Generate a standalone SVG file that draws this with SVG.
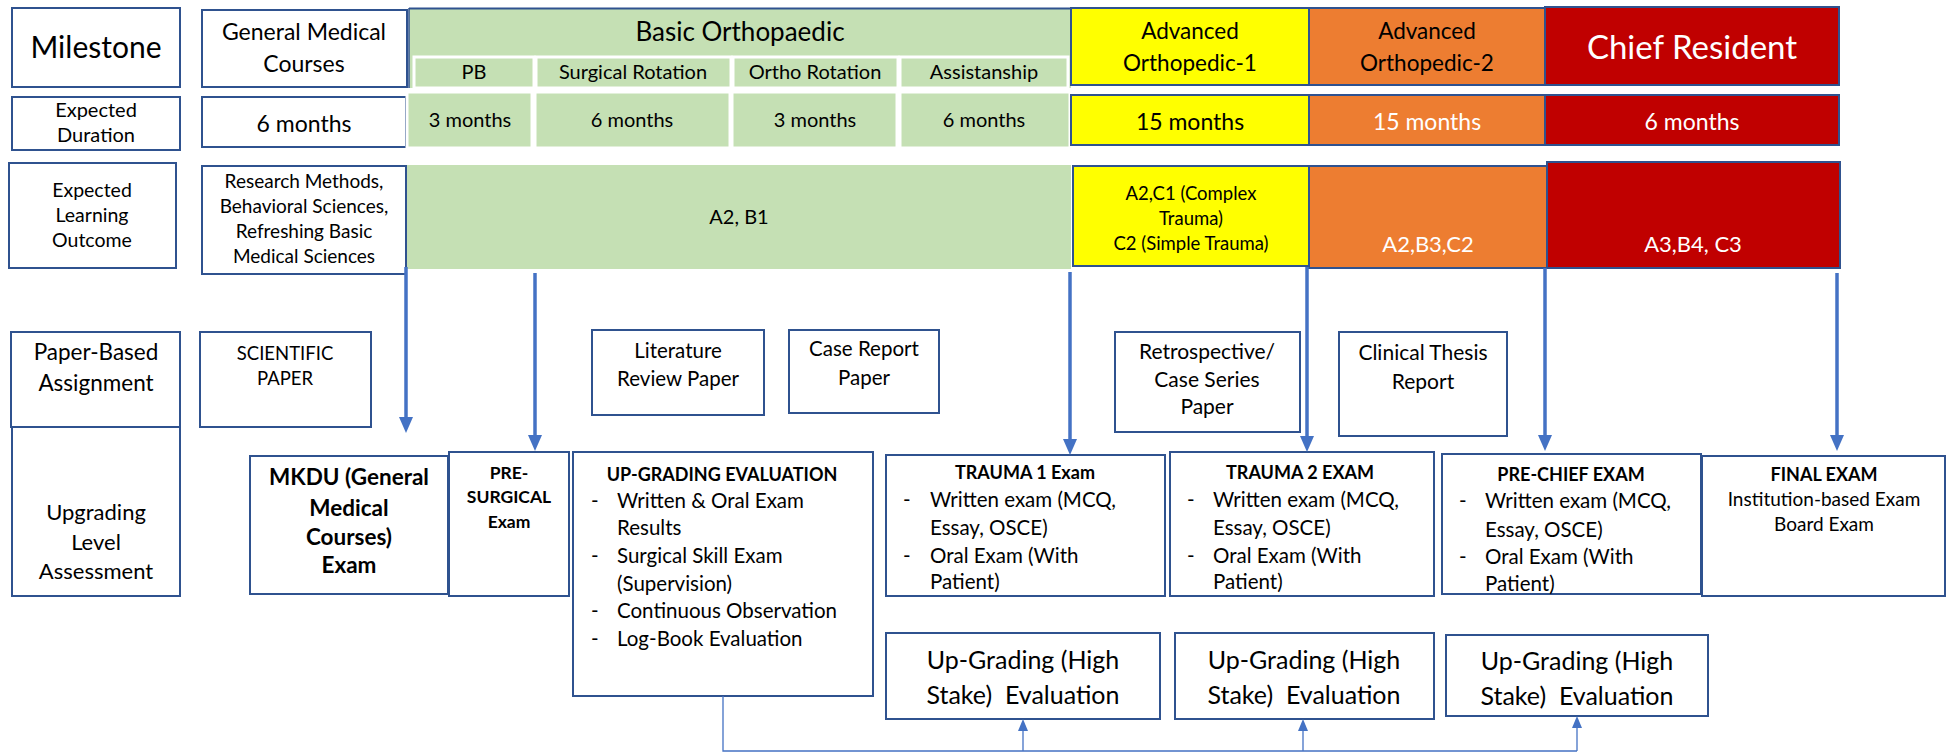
<svg xmlns="http://www.w3.org/2000/svg" width="1953" height="753" viewBox="0 0 1953 753">
  <defs>
    <style>
      .box{fill:#fff;stroke:#2F528F;stroke-width:2}
      .cellw{stroke:#fff;stroke-width:3}
      .green{fill:#C5E0B4}
      .yellow{fill:#FFFF00;stroke:#2F528F;stroke-width:2}
      .orange{fill:#ED7D31;stroke:#2F528F;stroke-width:2}
      .red{fill:#C00000;stroke:#2F528F;stroke-width:2}
      text{font-family:Lato,"Liberation Sans",sans-serif;fill:#000;text-anchor:middle}
      .b{font-weight:bold}
      .w{fill:#fff}
      .l{text-anchor:start}
      .pre{white-space:pre}
      .arrow{stroke:#4472C4;stroke-width:3.5;fill:none;marker-end:url(#bigHead)}
      .thin{stroke:#4472C4;stroke-width:1.3;fill:none}
      .thinA{stroke:#4472C4;stroke-width:1.3;fill:none;marker-end:url(#smallHead)}
    </style>
    <marker id="bigHead" viewBox="0 -7 16 14" refX="6" refY="0" markerWidth="16" markerHeight="14" markerUnits="userSpaceOnUse" orient="auto">
      <path d="M0,-7 L16,0 L0,7 z" fill="#4472C4"/>
    </marker>
    <marker id="smallHead" viewBox="0 -5 12 10" refX="4" refY="0" markerWidth="12" markerHeight="10" markerUnits="userSpaceOnUse" orient="auto">
      <path d="M0,-5 L12,0 L0,5 z" fill="#4472C4"/>
    </marker>
  </defs>

  <rect width="1953" height="753" fill="#fff"/>

  <!-- Row 1: milestones -->
  <g id="milestone">
    <rect class="box" x="12" y="8" width="168" height="79"/>
    <text x="96" y="58" font-size="30">Milestone</text>
  </g>
  <g id="general-medical">
    <rect class="box" x="202" y="10" width="205" height="77"/>
    <text x="304" y="40" font-size="23">General Medical</text>
    <text x="304" y="72" font-size="23">Courses</text>
  </g>
  <g id="basic-ortho">
    <rect class="green" x="409" y="8" width="662" height="80"/>
    <line x1="409" y1="8.5" x2="1071" y2="8.5" stroke="#2F528F" stroke-width="2"/>
    <line x1="409" y1="8" x2="409" y2="88" stroke="#2F528F" stroke-width="1.5"/>
    <text x="740" y="41" font-size="26">Basic Orthopaedic</text>
    <rect class="green cellw" x="414" y="57" width="120" height="31"/>
    <rect class="green cellw" x="536" y="57" width="195" height="31"/>
    <rect class="green cellw" x="733" y="57" width="165" height="31"/>
    <rect class="green cellw" x="900" y="57" width="168" height="31"/>
    <text x="474" y="79" font-size="20">PB</text>
    <text x="633" y="79" font-size="20">Surgical Rotation</text>
    <text x="815" y="79" font-size="20">Ortho Rotation</text>
    <text x="984" y="79" font-size="20">Assistanship</text>
  </g>
  <g id="advanced-1">
    <rect class="yellow" x="1071" y="8" width="238" height="77"/>
    <text x="1190" y="39" font-size="22.5">Advanced</text>
    <text x="1190" y="71" font-size="22.5">Orthopedic-1</text>
  </g>
  <g id="advanced-2">
    <rect class="orange" x="1309" y="8" width="236" height="77"/>
    <text x="1427" y="39" font-size="22.5">Advanced</text>
    <text x="1427" y="71" font-size="22.5">Orthopedic-2</text>
  </g>
  <g id="chief-resident">
    <rect class="red" x="1545" y="7" width="294" height="78"/>
    <text class="w" x="1692" y="59" font-size="33">Chief Resident</text>
  </g>

  <!-- Row 2: expected duration -->
  <g id="duration-label">
    <rect class="box" x="12" y="97" width="168" height="53"/>
    <text x="96" y="117" font-size="20">Expected</text>
    <text x="96" y="142" font-size="20">Duration</text>
  </g>
  <g id="duration-general">
    <rect class="box" x="202" y="97" width="204" height="50"/>
    <text x="304" y="132" font-size="23">6 months</text>
  </g>
  <g id="duration-basic">
    <rect class="green cellw" x="407" y="92" width="125" height="56"/>
    <rect class="green cellw" x="535" y="92" width="195" height="56"/>
    <rect class="green cellw" x="732" y="92" width="165" height="56"/>
    <rect class="green cellw" x="900" y="92" width="170" height="56"/>
    <text x="470" y="127" font-size="20">3 months</text>
    <text x="632" y="127" font-size="20">6 months</text>
    <text x="815" y="127" font-size="20">3 months</text>
    <text x="984" y="127" font-size="20">6 months</text>
  </g>
  <g id="duration-adv1">
    <rect class="yellow" x="1071" y="95" width="238" height="50"/>
    <text x="1190" y="130" font-size="23">15 months</text>
  </g>
  <g id="duration-adv2">
    <rect class="orange" x="1309" y="95" width="236" height="50"/>
    <text class="w" x="1427" y="130" font-size="23">15 months</text>
  </g>
  <g id="duration-chief">
    <rect class="red" x="1545" y="95" width="294" height="50"/>
    <text class="w" x="1692" y="130" font-size="23">6 months</text>
  </g>

  <!-- Row 3: expected learning outcome -->
  <g id="outcome-label">
    <rect class="box" x="9" y="163" width="167" height="105"/>
    <text x="92" y="197" font-size="19.5">Expected</text>
    <text x="92" y="222" font-size="19.5">Learning</text>
    <text x="92" y="247" font-size="19.5">Outcome</text>
  </g>
  <g id="outcome-general">
    <rect class="box" x="202" y="166" width="204" height="108"/>
    <text x="304" y="188" font-size="19">Research Methods,</text>
    <text x="304" y="213" font-size="19">Behavioral Sciences,</text>
    <text x="304" y="238" font-size="19">Refreshing Basic</text>
    <text x="304" y="263" font-size="19">Medical Sciences</text>
  </g>
  <g id="outcome-basic">
    <rect class="green" x="407" y="165" width="664" height="104"/>
    <text x="739" y="224" font-size="20">A2, B1</text>
  </g>
  <g id="outcome-adv1">
    <rect class="yellow" x="1073" y="166" width="236" height="100"/>
    <text x="1191" y="200" font-size="18.5">A2,C1 (Complex</text>
    <text x="1191" y="225" font-size="18.5">Trauma)</text>
    <text x="1191" y="250" font-size="18.5">C2 (Simple Trauma)</text>
  </g>
  <g id="outcome-adv2">
    <rect class="orange" x="1309" y="166" width="238" height="102"/>
    <text class="w" x="1428" y="252" font-size="22">A2,B3,C2</text>
  </g>
  <g id="outcome-chief">
    <rect class="red" x="1547" y="162" width="293" height="106"/>
    <text class="w" x="1693" y="252" font-size="22">A3,B4, C3</text>
  </g>

  <!-- Paper-based assignments -->
  <g id="paper-label">
    <rect class="box" x="11" y="332" width="169" height="95"/>
    <text x="96" y="360" font-size="22.5">Paper-Based</text>
    <text x="96" y="391" font-size="22.5">Assignment</text>
  </g>
  <g id="paper-scientific">
    <rect class="box" x="200" y="332" width="171" height="95"/>
    <text x="285" y="360" font-size="18.5">SCIENTIFIC</text>
    <text x="285" y="385" font-size="18.5">PAPER</text>
  </g>
  <g id="paper-literature">
    <rect class="box" x="592" y="330" width="172" height="85"/>
    <text x="678" y="358" font-size="20.5">Literature</text>
    <text x="678" y="386" font-size="20.5">Review Paper</text>
  </g>
  <g id="paper-case-report">
    <rect class="box" x="789" y="330" width="150" height="83"/>
    <text x="864" y="356" font-size="20.5">Case Report</text>
    <text x="864" y="385" font-size="20.5">Paper</text>
  </g>
  <g id="paper-case-series">
    <rect class="box" x="1115" y="332" width="185" height="100"/>
    <text x="1207" y="359" font-size="21">Retrospective/</text>
    <text x="1207" y="387" font-size="21">Case Series</text>
    <text x="1207" y="414" font-size="21">Paper</text>
  </g>
  <g id="paper-thesis">
    <rect class="box" x="1339" y="332" width="168" height="104"/>
    <text x="1423" y="360" font-size="21">Clinical Thesis</text>
    <text x="1423" y="389" font-size="21">Report</text>
  </g>

  <!-- Upgrading level assessment -->
  <g id="assessment-label">
    <rect class="box" x="12" y="427" width="168" height="169"/>
    <text x="96" y="520" font-size="22">Upgrading</text>
    <text x="96" y="550" font-size="22">Level</text>
    <text x="96" y="579" font-size="22">Assessment</text>
  </g>
  <g id="exam-mkdu">
    <rect class="box" x="250" y="456" width="198" height="138"/>
    <text class="b" x="349" y="485" font-size="22.5">MKDU (General</text>
    <text class="b" x="349" y="516" font-size="22.5">Medical</text>
    <text class="b" x="349" y="545" font-size="22.5">Courses)</text>
    <text class="b" x="349" y="573" font-size="22.5">Exam</text>
  </g>
  <g id="exam-presurgical">
    <rect class="box" x="449" y="452" width="120" height="144"/>
    <text class="b" x="509" y="479" font-size="17.5">PRE-</text>
    <text class="b" x="509" y="503" font-size="17.5">SURGICAL</text>
    <text class="b" x="509" y="528" font-size="17.5">Exam</text>
  </g>
  <g id="exam-upgrading">
    <rect class="box" x="573" y="452" width="300" height="244"/>
    <text class="b" x="722" y="481" font-size="18">UP-GRADING EVALUATION</text>
    <text class="l" x="591" y="508" font-size="20.5">-</text>
    <text class="l" x="617" y="508" font-size="20.5">Written &amp; Oral Exam</text>
    <text class="l" x="617" y="535" font-size="20.5">Results</text>
    <text class="l" x="591" y="563" font-size="20.5">-</text>
    <text class="l" x="617" y="563" font-size="20.5">Surgical Skill Exam</text>
    <text class="l" x="617" y="591" font-size="20.5">(Supervision)</text>
    <text class="l" x="591" y="618" font-size="20.5">-</text>
    <text class="l" x="617" y="618" font-size="20.5">Continuous Observation</text>
    <text class="l" x="591" y="646" font-size="20.5">-</text>
    <text class="l" x="617" y="646" font-size="20.5">Log-Book Evaluation</text>
  </g>
  <g id="exam-trauma1">
    <rect class="box" x="886" y="455" width="279" height="141"/>
    <text class="b" x="1025" y="479" font-size="18">TRAUMA 1 Exam</text>
    <text class="l" x="903" y="507" font-size="20.5">-</text>
    <text class="l" x="930" y="507" font-size="20.5">Written exam (MCQ,</text>
    <text class="l" x="930" y="535" font-size="20.5">Essay, OSCE)</text>
    <text class="l" x="903" y="563" font-size="20.5">-</text>
    <text class="l" x="930" y="563" font-size="20.5">Oral Exam (With</text>
    <text class="l" x="930" y="589" font-size="20.5">Patient)</text>
  </g>
  <g id="exam-trauma2">
    <rect class="box" x="1170" y="452" width="264" height="144"/>
    <text class="b" x="1300" y="479" font-size="18">TRAUMA 2 EXAM</text>
    <text class="l" x="1187" y="507" font-size="20.5">-</text>
    <text class="l" x="1213" y="507" font-size="20.5">Written exam (MCQ,</text>
    <text class="l" x="1213" y="535" font-size="20.5">Essay, OSCE)</text>
    <text class="l" x="1187" y="563" font-size="20.5">-</text>
    <text class="l" x="1213" y="563" font-size="20.5">Oral Exam (With</text>
    <text class="l" x="1213" y="589" font-size="20.5">Patient)</text>
  </g>
  <g id="exam-prechief">
    <rect class="box" x="1442" y="454" width="259" height="140"/>
    <text class="b" x="1571" y="481" font-size="18">PRE-CHIEF EXAM</text>
    <text class="l" x="1459" y="508" font-size="20.5">-</text>
    <text class="l" x="1485" y="508" font-size="20.5">Written exam (MCQ,</text>
    <text class="l" x="1485" y="537" font-size="20.5">Essay, OSCE)</text>
    <text class="l" x="1459" y="564" font-size="20.5">-</text>
    <text class="l" x="1485" y="564" font-size="20.5">Oral Exam (With</text>
    <text class="l" x="1485" y="591" font-size="20.5">Patient)</text>
  </g>
  <g id="exam-final">
    <rect class="box" x="1702" y="456" width="243" height="140"/>
    <text class="b" x="1824" y="481" font-size="18">FINAL EXAM</text>
    <text x="1824" y="506" font-size="19">Institution-based Exam</text>
    <text x="1824" y="531" font-size="19">Board Exam</text>
  </g>

  <!-- High stake evaluations -->
  <g id="high-stake-1">
    <rect class="box" x="886" y="633" width="274" height="86"/>
    <text x="1023" y="669" font-size="25">Up-Grading (High</text>
    <text class="pre" x="1023" y="704" font-size="25">Stake)  Evaluation</text>
  </g>
  <g id="high-stake-2">
    <rect class="box" x="1175" y="633" width="259" height="86"/>
    <text x="1304" y="669" font-size="25">Up-Grading (High</text>
    <text class="pre" x="1304" y="704" font-size="25">Stake)  Evaluation</text>
  </g>
  <g id="high-stake-3">
    <rect class="box" x="1446" y="635" width="262" height="81"/>
    <text x="1577" y="670" font-size="25">Up-Grading (High</text>
    <text class="pre" x="1577" y="705" font-size="25">Stake)  Evaluation</text>
  </g>

  <!-- Connectors -->
  <g id="connectors">
    <line class="arrow" x1="406" y1="267" x2="406" y2="423"/>
    <line class="arrow" x1="535" y1="273" x2="535" y2="441"/>
    <line class="arrow" x1="1070" y1="272" x2="1070" y2="445"/>
    <line class="arrow" x1="1307" y1="267" x2="1307" y2="442"/>
    <line class="arrow" x1="1545" y1="268" x2="1545" y2="441"/>
    <line class="arrow" x1="1837" y1="273" x2="1837" y2="441"/>
    <path class="thin" d="M723,696 V751 H1577"/>
    <line class="thinA" x1="1023" y1="751" x2="1023" y2="727"/>
    <line class="thinA" x1="1303" y1="751" x2="1303" y2="727"/>
    <line class="thinA" x1="1577" y1="751" x2="1577" y2="724"/>
  </g>
</svg>
